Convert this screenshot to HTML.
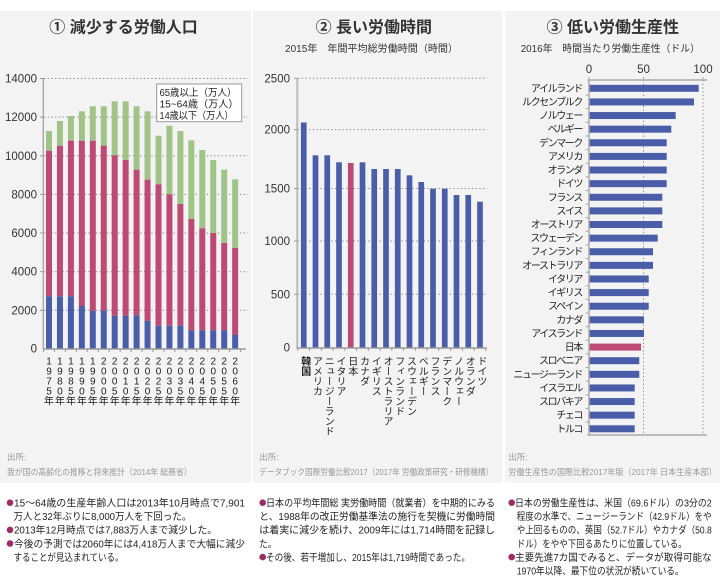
<!DOCTYPE html>
<html><head><meta charset="utf-8">
<style>
html,body{margin:0;padding:0;background:#fff;}
body{width:720px;height:580px;position:relative;overflow:hidden;}
svg{position:absolute;left:0;top:0;}
svg text{font-family:"Liberation Sans","Noto Sans CJK JP",sans-serif;}
.vl{position:absolute;top:356px;width:10px;writing-mode:vertical-rl;text-orientation:mixed;font-family:"Liberation Sans","Noto Sans CJK JP",sans-serif;font-size:10px;line-height:10px;color:#222;white-space:nowrap;}
</style></head><body>
<svg width="720" height="580" viewBox="0 0 720 580" xmlns="http://www.w3.org/2000/svg">
<!-- panels -->
<rect x="0" y="11" width="251" height="471.5" fill="#f3f3f3"/>
<rect x="253" y="11" width="249.5" height="471.5" fill="#f3f3f3"/>
<rect x="505" y="11" width="215" height="471.5" fill="#f3f3f3"/>

<!-- titles -->
<g font-size="16" font-weight="bold" fill="#333" text-anchor="middle">
<text x="123.5" y="32.5">① 減少する労働人口</text>
<text x="373.8" y="32.5">② 長い労働時間</text>
<text x="612.8" y="32.5">③ 低い労働生産性</text>
</g>
<g font-size="10" fill="#333">
<text x="285" y="51.8" textLength="173" lengthAdjust="spacingAndGlyphs">2015年　年間平均総労働時間（時間）</text>
<text x="520.7" y="51.8" textLength="179.3" lengthAdjust="spacingAndGlyphs">2016年　時間当たり労働生産性（ドル）</text>
</g>

<!-- ===== LEFT CHART ===== -->
<g stroke="#888" stroke-width="1" stroke-dasharray="1.3,2.4" fill="none">
<line x1="44" y1="78.5" x2="248" y2="78.5"/>
<line x1="44" y1="117.1" x2="248" y2="117.1"/>
<line x1="44" y1="155.8" x2="248" y2="155.8"/>
<line x1="44" y1="194.4" x2="248" y2="194.4"/>
<line x1="44" y1="233" x2="248" y2="233"/>
<line x1="44" y1="271.7" x2="248" y2="271.7"/>
<line x1="44" y1="310.3" x2="248" y2="310.3"/>
</g>
<g font-size="11.5" fill="#333" text-anchor="end">
<text x="37" y="82.5">14000</text>
<text x="37" y="121.1">12000</text>
<text x="37" y="159.8">10000</text>
<text x="37" y="198.4">8000</text>
<text x="37" y="237">6000</text>
<text x="37" y="275.7">4000</text>
<text x="37" y="314.3">2000</text>
<text x="37" y="352.5">0</text>
</g>
<!-- bars: green, red, blue -->
<g fill="#a0c487">
<rect x="46" y="131" width="6" height="19.7"/>
<rect x="56.95" y="121" width="6" height="24.7"/>
<rect x="67.9" y="116" width="6" height="24.7"/>
<rect x="78.85" y="111.3" width="6" height="29.4"/>
<rect x="89.8" y="106.3" width="6" height="34.4"/>
<rect x="100.75" y="106.3" width="6" height="39.4"/>
<rect x="111.7" y="101.3" width="6" height="54"/>
<rect x="122.65" y="101.3" width="6" height="58.7"/>
<rect x="133.6" y="106.3" width="6" height="63.4"/>
<rect x="144.55" y="111.3" width="6" height="68.4"/>
<rect x="155.5" y="135.7" width="6" height="48.6"/>
<rect x="166.45" y="125.7" width="6" height="68.6"/>
<rect x="177.4" y="131" width="6" height="73"/>
<rect x="188.35" y="140.3" width="6" height="78.7"/>
<rect x="199.3" y="150" width="6" height="78.3"/>
<rect x="210.25" y="160" width="6" height="73"/>
<rect x="221.2" y="169.7" width="6" height="73.3"/>
<rect x="232.15" y="179.3" width="6" height="68.7"/>
</g>
<g fill="#bc4a73">
<rect x="46" y="150.7" width="6" height="145.6"/>
<rect x="56.95" y="145.7" width="6" height="150.6"/>
<rect x="67.9" y="140.7" width="6" height="155.6"/>
<rect x="78.85" y="140.7" width="6" height="165.3"/>
<rect x="89.8" y="140.7" width="6" height="170"/>
<rect x="100.75" y="145.7" width="6" height="165"/>
<rect x="111.7" y="155.3" width="6" height="160.4"/>
<rect x="122.65" y="160" width="6" height="155.7"/>
<rect x="133.6" y="169.7" width="6" height="146"/>
<rect x="144.55" y="179.7" width="6" height="141"/>
<rect x="155.5" y="184.3" width="6" height="141.4"/>
<rect x="166.45" y="194.3" width="6" height="131.4"/>
<rect x="177.4" y="204" width="6" height="121.7"/>
<rect x="188.35" y="219" width="6" height="111.3"/>
<rect x="199.3" y="228.3" width="6" height="102"/>
<rect x="210.25" y="233" width="6" height="97.3"/>
<rect x="221.2" y="243" width="6" height="87.3"/>
<rect x="232.15" y="248" width="6" height="87"/>
</g>
<g fill="#4a5da9">
<rect x="46" y="296.3" width="6" height="52.2"/>
<rect x="56.95" y="296.3" width="6" height="52.2"/>
<rect x="67.9" y="296.3" width="6" height="52.2"/>
<rect x="78.85" y="306" width="6" height="42.5"/>
<rect x="89.8" y="310.7" width="6" height="37.8"/>
<rect x="100.75" y="310.7" width="6" height="37.8"/>
<rect x="111.7" y="315.7" width="6" height="32.8"/>
<rect x="122.65" y="315.7" width="6" height="32.8"/>
<rect x="133.6" y="315.7" width="6" height="32.8"/>
<rect x="144.55" y="320.7" width="6" height="27.8"/>
<rect x="155.5" y="325.7" width="6" height="22.8"/>
<rect x="166.45" y="325.7" width="6" height="22.8"/>
<rect x="177.4" y="325.7" width="6" height="22.8"/>
<rect x="188.35" y="330.3" width="6" height="18.2"/>
<rect x="199.3" y="330.3" width="6" height="18.2"/>
<rect x="210.25" y="330.3" width="6" height="18.2"/>
<rect x="221.2" y="330.3" width="6" height="18.2"/>
<rect x="232.15" y="335" width="6" height="13.5"/>
</g>
<line x1="43.3" y1="78" x2="43.3" y2="349" stroke="#aaa" stroke-width="1.5"/>
<line x1="43" y1="349" x2="246" y2="349" stroke="#999" stroke-width="1.5"/>
<g stroke="#999" stroke-width="1">
<line x1="43.5" y1="349" x2="43.5" y2="352"/><line x1="54.45" y1="349" x2="54.45" y2="352"/><line x1="65.4" y1="349" x2="65.4" y2="352"/><line x1="76.35" y1="349" x2="76.35" y2="352"/><line x1="87.3" y1="349" x2="87.3" y2="352"/><line x1="98.25" y1="349" x2="98.25" y2="352"/><line x1="109.2" y1="349" x2="109.2" y2="352"/><line x1="120.15" y1="349" x2="120.15" y2="352"/><line x1="131.1" y1="349" x2="131.1" y2="352"/><line x1="142.05" y1="349" x2="142.05" y2="352"/><line x1="153" y1="349" x2="153" y2="352"/><line x1="163.95" y1="349" x2="163.95" y2="352"/><line x1="174.9" y1="349" x2="174.9" y2="352"/><line x1="185.85" y1="349" x2="185.85" y2="352"/><line x1="196.8" y1="349" x2="196.8" y2="352"/><line x1="207.75" y1="349" x2="207.75" y2="352"/><line x1="218.7" y1="349" x2="218.7" y2="352"/><line x1="229.65" y1="349" x2="229.65" y2="352"/><line x1="240.6" y1="349" x2="240.6" y2="352"/>
<line x1="40" y1="78.5" x2="43" y2="78.5"/><line x1="40" y1="117.1" x2="43" y2="117.1"/><line x1="40" y1="155.8" x2="43" y2="155.8"/><line x1="40" y1="194.4" x2="43" y2="194.4"/><line x1="40" y1="233" x2="43" y2="233"/><line x1="40" y1="271.7" x2="43" y2="271.7"/><line x1="40" y1="310.3" x2="43" y2="310.3"/>
</g>
<!-- left x labels -->
<g font-size="10" fill="#222" text-anchor="middle">
<text><tspan x="49" y="364.5">1</tspan><tspan x="49" y="374.5">9</tspan><tspan x="49" y="384.5">7</tspan><tspan x="49" y="394.5">5</tspan><tspan x="49" y="404.5">年</tspan></text>
<text><tspan x="59.95" y="364.5">1</tspan><tspan x="59.95" y="374.5">9</tspan><tspan x="59.95" y="384.5">8</tspan><tspan x="59.95" y="394.5">0</tspan><tspan x="59.95" y="404.5">年</tspan></text>
<text><tspan x="70.9" y="364.5">1</tspan><tspan x="70.9" y="374.5">9</tspan><tspan x="70.9" y="384.5">8</tspan><tspan x="70.9" y="394.5">5</tspan><tspan x="70.9" y="404.5">年</tspan></text>
<text><tspan x="81.85" y="364.5">1</tspan><tspan x="81.85" y="374.5">9</tspan><tspan x="81.85" y="384.5">9</tspan><tspan x="81.85" y="394.5">0</tspan><tspan x="81.85" y="404.5">年</tspan></text>
<text><tspan x="92.8" y="364.5">1</tspan><tspan x="92.8" y="374.5">9</tspan><tspan x="92.8" y="384.5">9</tspan><tspan x="92.8" y="394.5">5</tspan><tspan x="92.8" y="404.5">年</tspan></text>
<text><tspan x="103.75" y="364.5">2</tspan><tspan x="103.75" y="374.5">0</tspan><tspan x="103.75" y="384.5">0</tspan><tspan x="103.75" y="394.5">0</tspan><tspan x="103.75" y="404.5">年</tspan></text>
<text><tspan x="114.7" y="364.5">2</tspan><tspan x="114.7" y="374.5">0</tspan><tspan x="114.7" y="384.5">0</tspan><tspan x="114.7" y="394.5">5</tspan><tspan x="114.7" y="404.5">年</tspan></text>
<text><tspan x="125.65" y="364.5">2</tspan><tspan x="125.65" y="374.5">0</tspan><tspan x="125.65" y="384.5">1</tspan><tspan x="125.65" y="394.5">0</tspan><tspan x="125.65" y="404.5">年</tspan></text>
<text><tspan x="136.6" y="364.5">2</tspan><tspan x="136.6" y="374.5">0</tspan><tspan x="136.6" y="384.5">1</tspan><tspan x="136.6" y="394.5">5</tspan><tspan x="136.6" y="404.5">年</tspan></text>
<text><tspan x="147.55" y="364.5">2</tspan><tspan x="147.55" y="374.5">0</tspan><tspan x="147.55" y="384.5">2</tspan><tspan x="147.55" y="394.5">0</tspan><tspan x="147.55" y="404.5">年</tspan></text>
<text><tspan x="158.5" y="364.5">2</tspan><tspan x="158.5" y="374.5">0</tspan><tspan x="158.5" y="384.5">2</tspan><tspan x="158.5" y="394.5">5</tspan><tspan x="158.5" y="404.5">年</tspan></text>
<text><tspan x="169.45" y="364.5">2</tspan><tspan x="169.45" y="374.5">0</tspan><tspan x="169.45" y="384.5">3</tspan><tspan x="169.45" y="394.5">0</tspan><tspan x="169.45" y="404.5">年</tspan></text>
<text><tspan x="180.4" y="364.5">2</tspan><tspan x="180.4" y="374.5">0</tspan><tspan x="180.4" y="384.5">3</tspan><tspan x="180.4" y="394.5">5</tspan><tspan x="180.4" y="404.5">年</tspan></text>
<text><tspan x="191.35" y="364.5">2</tspan><tspan x="191.35" y="374.5">0</tspan><tspan x="191.35" y="384.5">4</tspan><tspan x="191.35" y="394.5">0</tspan><tspan x="191.35" y="404.5">年</tspan></text>
<text><tspan x="202.3" y="364.5">2</tspan><tspan x="202.3" y="374.5">0</tspan><tspan x="202.3" y="384.5">4</tspan><tspan x="202.3" y="394.5">5</tspan><tspan x="202.3" y="404.5">年</tspan></text>
<text><tspan x="213.25" y="364.5">2</tspan><tspan x="213.25" y="374.5">0</tspan><tspan x="213.25" y="384.5">5</tspan><tspan x="213.25" y="394.5">0</tspan><tspan x="213.25" y="404.5">年</tspan></text>
<text><tspan x="224.2" y="364.5">2</tspan><tspan x="224.2" y="374.5">0</tspan><tspan x="224.2" y="384.5">5</tspan><tspan x="224.2" y="394.5">5</tspan><tspan x="224.2" y="404.5">年</tspan></text>
<text><tspan x="235.15" y="364.5">2</tspan><tspan x="235.15" y="374.5">0</tspan><tspan x="235.15" y="384.5">6</tspan><tspan x="235.15" y="394.5">0</tspan><tspan x="235.15" y="404.5">年</tspan></text>
</g>
<!-- legend -->
<rect x="156.7" y="84" width="85" height="37.7" fill="#fff" stroke="#999" stroke-width="1"/>
<g font-size="10" fill="#222">
<text x="159.5" y="96" textLength="77" lengthAdjust="spacingAndGlyphs">65歳以上（万人）</text>
<text x="159.5" y="107.3" textLength="79" lengthAdjust="spacingAndGlyphs">15~64歳（万人）</text>
<text x="159.5" y="118.8" textLength="74" lengthAdjust="spacingAndGlyphs">14歳以下（万人）</text>
</g>

<!-- ===== MIDDLE CHART ===== -->
<g stroke="#888" stroke-width="1" stroke-dasharray="1.3,2.4" fill="none">
<line x1="298" y1="78.3" x2="487" y2="78.3"/>
<line x1="298" y1="129.6" x2="487" y2="129.6"/>
<line x1="298" y1="188.5" x2="487" y2="188.5"/>
<line x1="298" y1="241" x2="487" y2="241"/>
<line x1="298" y1="294.3" x2="487" y2="294.3"/>
</g>
<g font-size="11.5" fill="#333" text-anchor="end">
<text x="290" y="82.3">2500</text>
<text x="290" y="133.6">2000</text>
<text x="290" y="192.5">1500</text>
<text x="290" y="245">1000</text>
<text x="290" y="298.3">500</text>
<text x="290" y="351.7">0</text>
</g>
<g fill="#4a5da9">
<rect x="300.9" y="122.5" width="5.7" height="225.3"/>
<rect x="312.65" y="155.3" width="5.7" height="192.5"/>
<rect x="324.4" y="155.3" width="5.7" height="192.5"/>
<rect x="336.15" y="162.3" width="5.7" height="185.5"/>
<rect x="359.65" y="162.3" width="5.7" height="185.5"/>
<rect x="371.4" y="169" width="5.7" height="178.8"/>
<rect x="383.15" y="169" width="5.7" height="178.8"/>
<rect x="394.9" y="169" width="5.7" height="178.8"/>
<rect x="406.65" y="175.3" width="5.7" height="172.5"/>
<rect x="418.4" y="182" width="5.7" height="165.8"/>
<rect x="430.15" y="188.7" width="5.7" height="159.1"/>
<rect x="441.9" y="188.7" width="5.7" height="159.1"/>
<rect x="453.65" y="195" width="5.7" height="152.8"/>
<rect x="465.4" y="195" width="5.7" height="152.8"/>
<rect x="477.15" y="201.7" width="5.7" height="146.1"/>
</g>
<rect x="347.9" y="163" width="5.7" height="184.8" fill="#bc4a73"/>
<line x1="297.3" y1="78" x2="297.3" y2="348" stroke="#bbb" stroke-width="2"/>
<line x1="296.5" y1="348" x2="487" y2="348" stroke="#999" stroke-width="1.5"/>
<g stroke="#999" stroke-width="1">
<line x1="297.8" y1="348" x2="297.8" y2="351"/><line x1="309.55" y1="348" x2="309.55" y2="351"/><line x1="321.3" y1="348" x2="321.3" y2="351"/><line x1="333.05" y1="348" x2="333.05" y2="351"/><line x1="344.8" y1="348" x2="344.8" y2="351"/><line x1="356.55" y1="348" x2="356.55" y2="351"/><line x1="368.3" y1="348" x2="368.3" y2="351"/><line x1="380.05" y1="348" x2="380.05" y2="351"/><line x1="391.8" y1="348" x2="391.8" y2="351"/><line x1="403.55" y1="348" x2="403.55" y2="351"/><line x1="415.3" y1="348" x2="415.3" y2="351"/><line x1="427.05" y1="348" x2="427.05" y2="351"/><line x1="438.8" y1="348" x2="438.8" y2="351"/><line x1="450.55" y1="348" x2="450.55" y2="351"/><line x1="462.3" y1="348" x2="462.3" y2="351"/><line x1="474.05" y1="348" x2="474.05" y2="351"/><line x1="485.8" y1="348" x2="485.8" y2="351"/>
<line x1="294" y1="78.3" x2="297" y2="78.3"/><line x1="294" y1="129.6" x2="297" y2="129.6"/><line x1="294" y1="188.5" x2="297" y2="188.5"/><line x1="294" y1="241" x2="297" y2="241"/><line x1="294" y1="294.3" x2="297" y2="294.3"/>
</g>

<!-- ===== RIGHT CHART ===== -->
<g stroke="#888" stroke-width="1" stroke-dasharray="1.3,2.4" fill="none">
<line x1="643.5" y1="80" x2="643.5" y2="435"/>
<line x1="703" y1="80" x2="703" y2="435"/>
</g>
<g font-size="11.5" fill="#333" text-anchor="middle">
<text x="589" y="73">0</text>
<text x="643.5" y="73">50</text>
<text x="703" y="73">100</text>
</g>
<g fill="#4a5da9">
<rect x="589" y="84.8" width="109.7" height="7"/>
<rect x="589" y="98.42" width="105" height="7"/>
<rect x="589" y="112.04" width="86.7" height="7"/>
<rect x="589" y="125.66" width="82.3" height="7"/>
<rect x="589" y="139.28" width="77.7" height="7"/>
<rect x="589" y="152.9" width="77.7" height="7"/>
<rect x="589" y="166.52" width="77.7" height="7"/>
<rect x="589" y="180.14" width="77.7" height="7"/>
<rect x="589" y="193.76" width="73.3" height="7"/>
<rect x="589" y="207.38" width="73.3" height="7"/>
<rect x="589" y="221" width="73.3" height="7"/>
<rect x="589" y="234.62" width="68.7" height="7"/>
<rect x="589" y="248.24" width="64" height="7"/>
<rect x="589" y="261.86" width="64" height="7"/>
<rect x="589" y="275.48" width="59.7" height="7"/>
<rect x="589" y="289.1" width="59.7" height="7"/>
<rect x="589" y="302.72" width="59.7" height="7"/>
<rect x="589" y="316.34" width="55" height="7"/>
<rect x="589" y="329.96" width="55" height="7"/>
<rect x="589" y="357.2" width="50.3" height="7"/>
<rect x="589" y="370.82" width="50.3" height="7"/>
<rect x="589" y="384.44" width="45.7" height="7"/>
<rect x="589" y="398.06" width="45.7" height="7"/>
<rect x="589" y="411.68" width="45.7" height="7"/>
<rect x="589" y="425.3" width="45.7" height="7"/>
</g>
<rect x="589" y="343.58" width="52" height="7" fill="#bc4a73"/>
<line x1="587.5" y1="80" x2="707" y2="80" stroke="#aaa" stroke-width="1.5"/>
<line x1="587.5" y1="435" x2="707" y2="435" stroke="#aaa" stroke-width="1.5"/>
<line x1="589" y1="80" x2="589" y2="435" stroke="#aaa" stroke-width="1.5"/>
<g stroke="#aaa" stroke-width="1">
<line x1="589" y1="77" x2="589" y2="80"/><line x1="643.5" y1="77" x2="643.5" y2="80"/><line x1="703" y1="77" x2="703" y2="80"/>
<line x1="585.5" y1="95.1" x2="589" y2="95.1"/><line x1="585.5" y1="108.7" x2="589" y2="108.7"/><line x1="585.5" y1="122.3" x2="589" y2="122.3"/><line x1="585.5" y1="136" x2="589" y2="136"/><line x1="585.5" y1="149.6" x2="589" y2="149.6"/><line x1="585.5" y1="163.2" x2="589" y2="163.2"/><line x1="585.5" y1="176.8" x2="589" y2="176.8"/><line x1="585.5" y1="190.5" x2="589" y2="190.5"/><line x1="585.5" y1="204.1" x2="589" y2="204.1"/><line x1="585.5" y1="217.7" x2="589" y2="217.7"/><line x1="585.5" y1="231.3" x2="589" y2="231.3"/><line x1="585.5" y1="244.9" x2="589" y2="244.9"/><line x1="585.5" y1="258.6" x2="589" y2="258.6"/><line x1="585.5" y1="272.2" x2="589" y2="272.2"/><line x1="585.5" y1="285.8" x2="589" y2="285.8"/><line x1="585.5" y1="299.4" x2="589" y2="299.4"/><line x1="585.5" y1="313" x2="589" y2="313"/><line x1="585.5" y1="326.7" x2="589" y2="326.7"/><line x1="585.5" y1="340.3" x2="589" y2="340.3"/><line x1="585.5" y1="353.9" x2="589" y2="353.9"/><line x1="585.5" y1="367.5" x2="589" y2="367.5"/><line x1="585.5" y1="381.1" x2="589" y2="381.1"/><line x1="585.5" y1="394.8" x2="589" y2="394.8"/><line x1="585.5" y1="408.4" x2="589" y2="408.4"/><line x1="585.5" y1="422" x2="589" y2="422"/>
</g>
<g font-size="10" fill="#222" text-anchor="end" letter-spacing="-1.4">
<text x="582" y="91.8">アイルランド</text>
<text x="582" y="105.4">ルクセンブルク</text>
<text x="582" y="119">ノルウェー</text>
<text x="582" y="132.7">ベルギー</text>
<text x="582" y="146.3">デンマーク</text>
<text x="582" y="159.9">アメリカ</text>
<text x="582" y="173.5">オランダ</text>
<text x="582" y="187.1">ドイツ</text>
<text x="582" y="200.8">フランス</text>
<text x="582" y="214.4">スイス</text>
<text x="582" y="228">オーストリア</text>
<text x="582" y="241.6">スウェーデン</text>
<text x="582" y="255.2">フィンランド</text>
<text x="582" y="268.9">オーストラリア</text>
<text x="582" y="282.5">イタリア</text>
<text x="582" y="296.1">イギリス</text>
<text x="582" y="309.7">スペイン</text>
<text x="582" y="323.3">カナダ</text>
<text x="582" y="337">アイスランド</text>
<text x="582" y="350.6">日本</text>
<text x="582" y="364.2">スロベニア</text>
<text x="582" y="377.8">ニュージーランド</text>
<text x="582" y="391.4">イスラエル</text>
<text x="582" y="405.1">スロバキア</text>
<text x="582" y="418.7">チェコ</text>
<text x="582" y="432.3">トルコ</text>
</g>

<!-- sources -->
<g font-size="8.5" fill="#999">
<text x="7" y="460">出所:</text>
<text x="7" y="475" textLength="184.7" lengthAdjust="spacingAndGlyphs">我が国の高齢化の推移と将来推計（2014年 総務省）</text>
<text x="259.3" y="460">出所:</text>
<text x="259.3" y="475" textLength="234" lengthAdjust="spacingAndGlyphs">データブック国際労働比較2017（2017年 労働政策研究・研修機構）</text>
<text x="508.3" y="460">出所:</text>
<text x="508.3" y="475" textLength="208.4" lengthAdjust="spacingAndGlyphs">労働生産性の国際比較2017年版（2017年 日本生産本部）</text>
</g>

<!-- bullets -->
<g fill="#9e2d63">
<circle cx="10" cy="502.7" r="3.3"/>
<circle cx="10" cy="529.9" r="3.3"/>
<circle cx="10" cy="543.5" r="3.3"/>
<circle cx="262.7" cy="502.7" r="3.3"/>
<circle cx="262.7" cy="557.1" r="3.3"/>
<circle cx="511.7" cy="502.7" r="3.3"/>
<circle cx="511.7" cy="557.1" r="3.3"/>
</g>
<g font-size="10" fill="#222">
<text x="14" y="506.5" textLength="231" lengthAdjust="spacingAndGlyphs">15～64歳の生産年齢人口は2013年10月時点で7,901</text>
<text x="13.5" y="520.1" textLength="178" lengthAdjust="spacingAndGlyphs">万人と32年ぶりに8,000万人を下回った。</text>
<text x="14" y="533.7" textLength="203" lengthAdjust="spacingAndGlyphs">2013年12月時点では7,883万人まで減少した。</text>
<text x="14" y="547.3" textLength="231" lengthAdjust="spacingAndGlyphs">今後の予測では2060年には4,418万人まで大幅に減少</text>
<text x="13.5" y="560.9" textLength="110" lengthAdjust="spacingAndGlyphs">することが見込まれている。</text>

<text x="266" y="506.5" textLength="229" lengthAdjust="spacingAndGlyphs">日本の平均年間総 実労働時間（就業者）を中期的にみる</text>
<text x="259.3" y="520.1" textLength="235.7" lengthAdjust="spacingAndGlyphs">と、1988年の改正労働基準法の施行を契機に労働時間</text>
<text x="259.3" y="533.7" textLength="235.7" lengthAdjust="spacingAndGlyphs">は着実に減少を続け、2009年には1,714時間を記録し</text>
<text x="259.3" y="547.3" textLength="17" lengthAdjust="spacingAndGlyphs">た。</text>
<text x="266" y="560.9" textLength="204" lengthAdjust="spacingAndGlyphs">その後、若干増加し、2015年は1,719時間であった。</text>

<text x="515" y="506.5" textLength="196.7" lengthAdjust="spacingAndGlyphs">日本の労働生産性は、米国（69.6ドル）の3分の2</text>
<text x="516.7" y="520.1" textLength="195" lengthAdjust="spacingAndGlyphs">程度の水準で、ニュージーランド（42.9ドル）をや</text>
<text x="516.7" y="533.7" textLength="195" lengthAdjust="spacingAndGlyphs">や上回るものの、英国（52.7ドル）やカナダ（50.8</text>
<text x="516.7" y="547.3" textLength="170" lengthAdjust="spacingAndGlyphs">ドル）をやや下回るあたりに位置している。</text>
<text x="515" y="560.9" textLength="196.7" lengthAdjust="spacingAndGlyphs">主要先進7カ国でみると、データが取得可能な</text>
<text x="516.7" y="574.5" textLength="167" lengthAdjust="spacingAndGlyphs">1970年以降、最下位の状況が続いている。</text>
</g>
</svg>

<!-- middle vertical labels -->
<div class="vl" style="left:298.7px;font-weight:bold;">韓国</div>
<div class="vl" style="left:310.45px;">アメリカ</div>
<div class="vl" style="left:322.2px;">ニュージーランド</div>
<div class="vl" style="left:333.95px;">イタリア</div>
<div class="vl" style="left:345.7px;">日本</div>
<div class="vl" style="left:357.45px;">カナダ</div>
<div class="vl" style="left:369.2px;">イギリス</div>
<div class="vl" style="left:380.95px;">オーストラリア</div>
<div class="vl" style="left:392.7px;">フィンランド</div>
<div class="vl" style="left:404.45px;">スウェーデン</div>
<div class="vl" style="left:416.2px;">ベルギー</div>
<div class="vl" style="left:427.95px;">フランス</div>
<div class="vl" style="left:439.7px;">デンマーク</div>
<div class="vl" style="left:451.45px;">ノルウェー</div>
<div class="vl" style="left:463.2px;">オランダ</div>
<div class="vl" style="left:474.95px;">ドイツ</div>
</body></html>
